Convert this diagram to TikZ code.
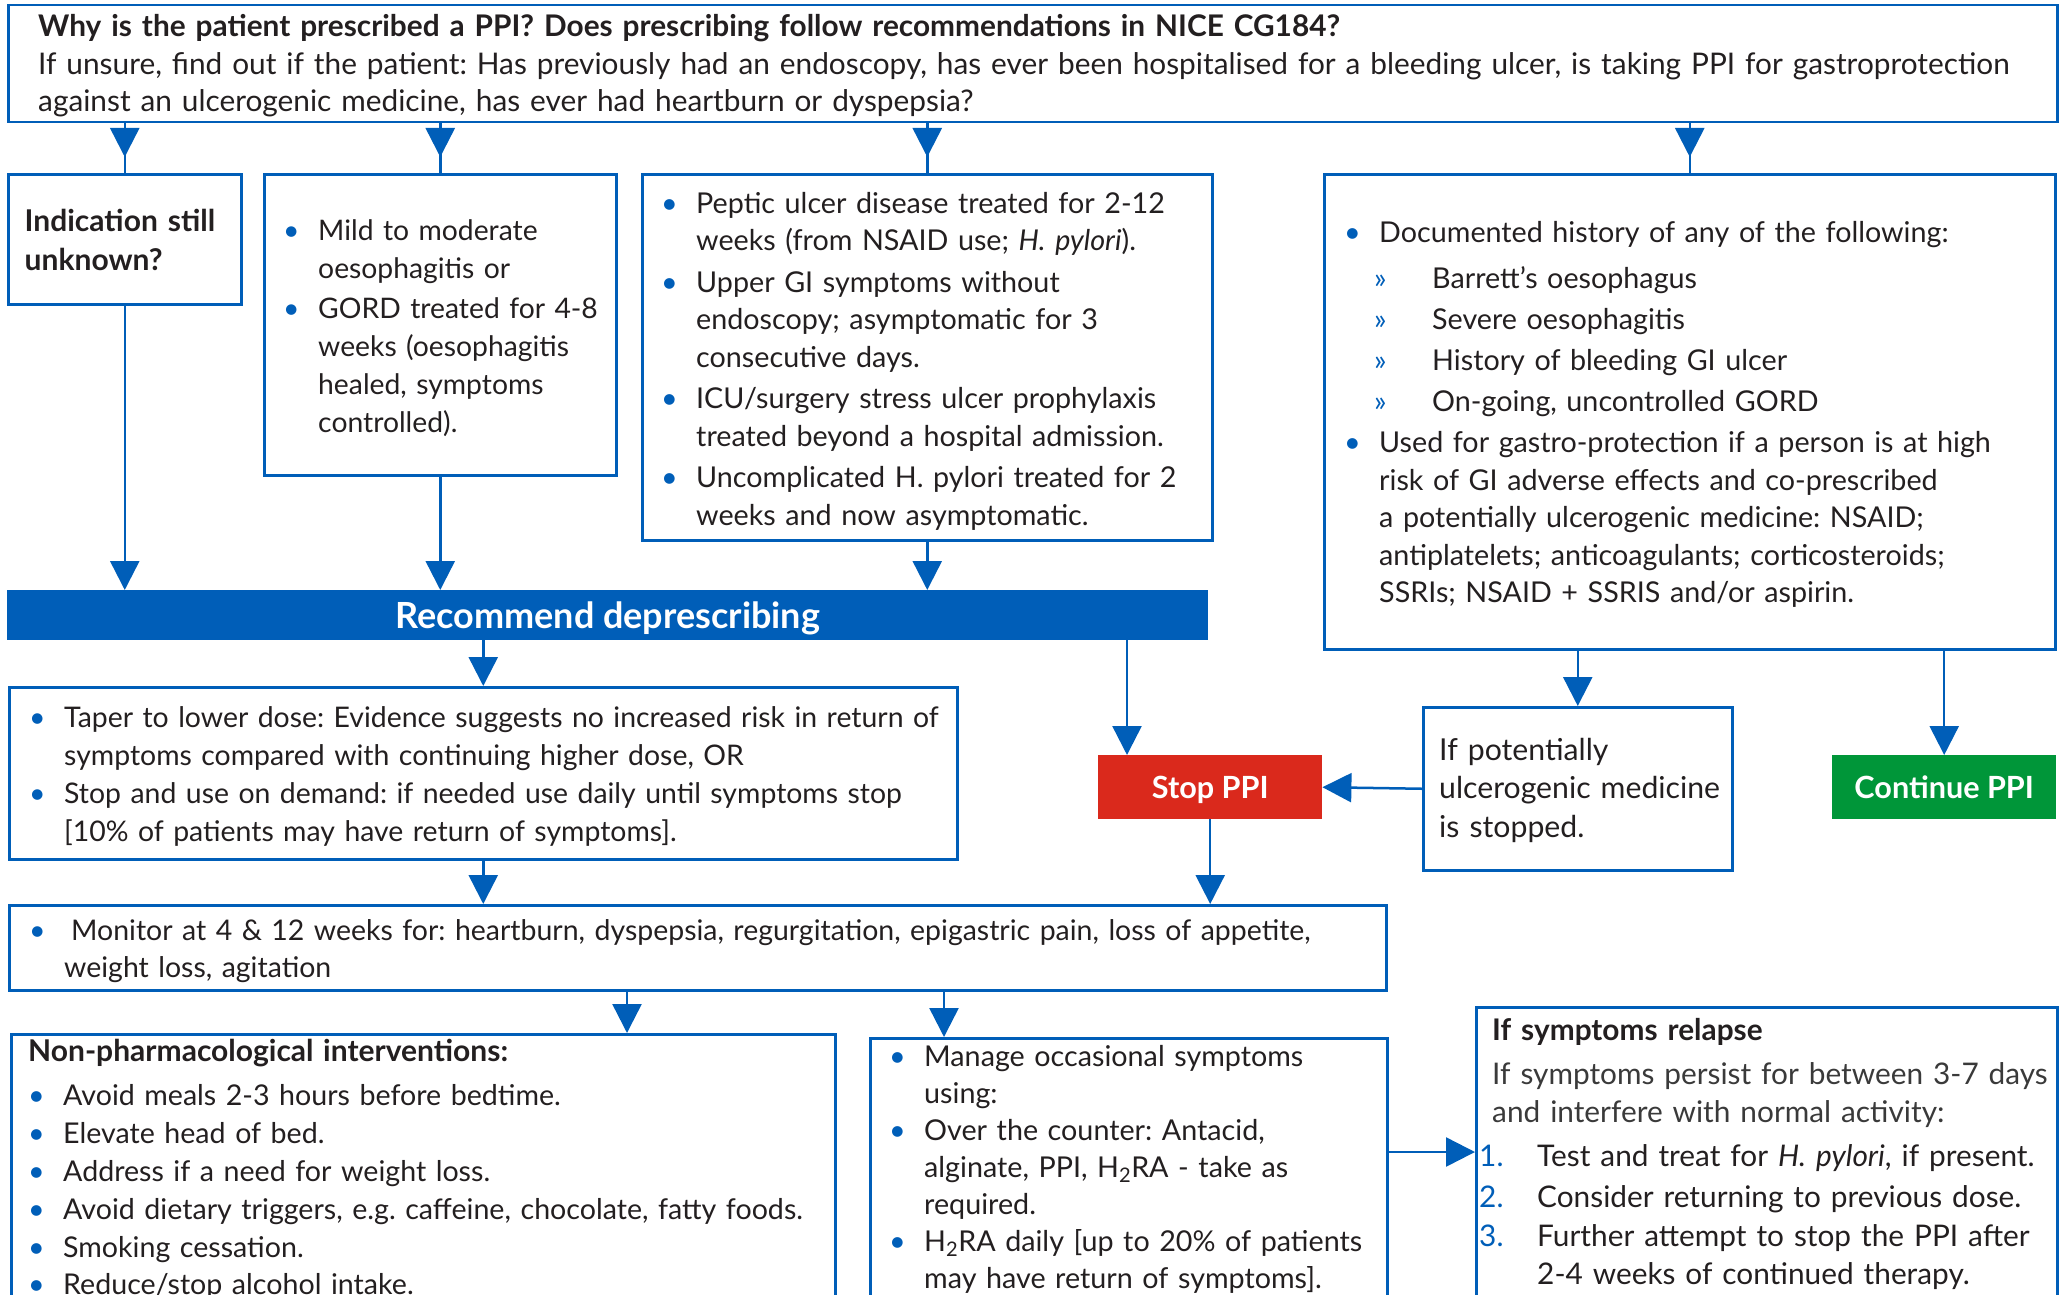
\documentclass[tikz,border=0pt]{standalone}
\usepackage{fontspec}
\setmainfont{Lato}
\usetikzlibrary{arrows.meta}
\definecolor{nhsblue}{HTML}{005EB8}
\definecolor{stopred}{HTML}{DA291C}
\definecolor{gogreen}{HTML}{009639}
\definecolor{inkc}{HTML}{231F20}
\definecolor{greyc}{HTML}{3A3A3A}
\frenchspacing
% bullet lines with hanging indent
\newcommand{\bul}[1]{\noindent\hangindent=35pt\makebox[35pt][l]{\textcolor{nhsblue}{\textbullet}}#1\par}
\newcommand{\subbul}[1]{\noindent\hspace*{30pt}\makebox[58pt][l]{\textcolor{nhsblue}{\fontsize{29}{29}\selectfont »}}#1\par}
\newcommand{\numit}[2]{\noindent\hangindent=45pt\hspace*{-13pt}\makebox[58pt][l]{\textcolor{nhsblue}{#1.}}#2\par}
\newcommand{\gap}[1]{\vspace{#1pt}}
\newcommand{\fs}[2]{\fontsize{#1}{#2}\selectfont}
\tikzset{
  box/.style={draw=nhsblue, line width=2.5pt, anchor=north west, inner sep=0pt},
  txt/.style={anchor=base west, inner sep=0pt, align=left, text width=#1, text=inkc,
    font=\fs{28.5}{37.5}},
  txt/.default=1400pt,
  conn/.style={draw=nhsblue, line width=2.5pt},
  arr/.style={conn, -{Triangle[length=29pt, width=29pt]}},
  tag/.style={anchor=north west, inner sep=0pt, text=white, text height=22pt, text depth=0pt,
    font=\fs{30.6}{34}\bfseries},
}
\begin{document}
\begin{tikzpicture}[x=1pt, y=-1pt]
  \path[use as bounding box] (0,0) rectangle (2063,1295);
  \clip (0,0) rectangle (2063,1295);
  % boxes
  \node[box, minimum width=2049pt, minimum height=117pt] (q) at (7,4) {};
  \node[box, minimum width=233pt, minimum height=130pt] (unk) at (7,173) {};
  \node[box, minimum width=352pt, minimum height=301pt] (mild) at (263,173) {};
  \node[box, minimum width=570pt, minimum height=366pt] (pud) at (641,173) {};
  \node[box, minimum width=731pt, minimum height=475pt] (doc) at (1323,173) {};
  \node[anchor=north west, inner sep=0pt, fill=nhsblue, minimum width=1201pt, minimum height=50pt,
    text=white, text height=26pt, text depth=0pt, font=\fs{36}{40}\bfseries]
    (rec) at (7,590) {Recommend deprescribing};
  \node[box, minimum width=948pt, minimum height=172pt] (taper) at (8,686) {};
  \node[tag, fill=stopred, minimum width=224pt, minimum height=64pt] (stop) at (1098,755) {Stop PPI};
  \node[box, minimum width=309pt, minimum height=163pt] (ifpot) at (1422,706) {};
  \node[tag, fill=gogreen, minimum width=224pt, minimum height=64pt] (cont) at (1832,755) {Continue PPI};
  \node[box, minimum width=1377pt, minimum height=85pt] (mon) at (8,904) {};
  \node[box, minimum width=824pt, minimum height=400pt] (nonph) at (10,1033) {};
  \node[box, minimum width=517pt, minimum height=400pt] (manage) at (869,1037) {};
  \node[box, minimum width=581pt, minimum height=400pt] (relapse) at (1475,1006) {};

  % texts
  \node[txt=2020pt, font=\fs{29.8}{37.5}] (qt) at (38,37) {\textbf{Why is the patient prescribed a PPI? Does prescribing follow recommendations in NICE CG184?}\\
    If unsure, find out if the patient: Has previously had an endoscopy, has ever been hospitalised for a bleeding ulcer, is taking PPI for gastroprotection\\
    against an ulcerogenic medicine, has ever had heartburn or dyspepsia?};
  \node[txt, font=\fs{30}{39}\bfseries] (unkt) at (24.5,231) {Indication still\\unknown?};
  \node[txt, font=\fs{28.3}{38}] (mildt) at (283,240) {%
    \bul{Mild to moderate\newline oesophagitis or}\gap{2}
    \bul{GORD treated for 4-8\newline weeks (oesophagitis\newline healed, symptoms\newline controlled).}};
  \node[txt, font=\fs{28.7}{37.5}] (pudt) at (661,213) {%
    \bul{Peptic ulcer disease treated for 2-12\newline weeks (from NSAID use; \textit{H. pylori}).}\gap{4}
    \bul{Upper GI symptoms without\newline endoscopy; asymptomatic for 3\newline consecutive days.}\gap{4}
    \bul{ICU/surgery stress ulcer prophylaxis\newline treated beyond a hospital admission.}\gap{4}
    \bul{Uncomplicated H. pylori treated for 2\newline weeks and now asymptomatic.}};
  \node[txt, font=\fs{28.7}{37.5}] (doct) at (1344,242) {%
    \bul{Documented history of any of the following:}\gap{8.5}
    \subbul{Barrett’s oesophagus}\gap{4}
    \subbul{Severe oesophagitis}\gap{3}
    \subbul{History of bleeding GI ulcer}\gap{4}
    \subbul{On-going, uncontrolled GORD}\gap{3.5}
    \bul{Used for gastro-protection if a person is at high\newline risk of GI adverse effects and co-prescribed\newline
      a potentially ulcerogenic medicine: NSAID;\newline antiplatelets; anticoagulants; corticosteroids;\newline
      SSRIs; NSAID + SSRIS and/or aspirin.}};
  \node[txt, font=\fs{28.4}{38}] (tapert) at (29,727) {%
    \bul{Taper to lower dose: Evidence suggests no increased risk in return of\newline symptoms compared with continuing higher dose, OR}
    \bul{Stop and use on demand: if needed use daily until symptoms stop\newline [10\% of patients may have return of symptoms].}};
  \node[txt, font=\fs{30.2}{38.5}] (ifpott) at (1439,760) {If potentially\\ulcerogenic medicine\\is stopped.};
  \node[txt, font=\fs{28.45}{37.5}] (mont) at (29,940) {%
    \bul{\hspace*{7pt}Monitor at 4 \& 12 weeks for: heartburn, dyspepsia, regurgitation, epigastric pain, loss of appetite,\newline weight loss, agitation}};
  \node[txt, font=\fs{28.6}{37.8}] (nonpht) at (28,1061) {%
    {\fs{30}{37.8}\bfseries Non-pharmacological interventions:\par}\gap{7}
    \bul{Avoid meals 2-3 hours before bedtime.}
    \bul{Elevate head of bed.}
    \bul{Address if a need for weight loss.}
    \bul{Avoid dietary triggers, e.g. caffeine, chocolate, fatty foods.}
    \bul{Smoking cessation.}
    \bul{Reduce/stop alcohol intake.}};
  \node[txt, font=\fs{28.7}{37}] (managet) at (889,1066) {%
    \bul{Manage occasional symptoms\newline using:}
    \bul{Over the counter: Antacid,\newline alginate, PPI, H\textsubscript{2}RA - take as\newline required.}
    \bul{H\textsubscript{2}RA daily [up to 20\% of patients\newline may have return of symptoms].}};
  \node[txt, font=\fs{29.8}{37.5}] (relapset) at (1492,1040) {%
    {\bfseries If symptoms relapse\par}\gap{7}
    {\color{greyc}If symptoms persist for between 3-7 days\newline and interfere with normal activity:\par}\gap{7}
    \numit{1}{Test and treat for \textit{H. pylori}, if present.}\gap{3}
    \numit{2}{Consider returning to previous dose.}\gap{2}
    \numit{3}{Further attempt to stop the PPI after\newline 2-4 weeks of continued therapy.}};

  % connectors
  \foreach \b in {unk,mild,pud,doc}{
    \draw[conn] (q.south -| \b.north) -- (\b.north);
    \draw[arr, shorten >=16pt] (q.south -| \b.north) -- (\b.north);
  }
  \foreach \b in {unk,mild,pud}
    \draw[arr] (\b.south) -- (rec.north -| \b.south);
  \draw[arr] (rec.south -| taper.north) -- (taper.north);
  \coordinate (stopin) at ([xshift=29pt]stop.north west);
  \draw[arr] (rec.south -| stopin) -- (stopin);
  \draw[arr] (doc.south -| ifpot.north) -- (ifpot.north);
  \draw[arr] (doc.south -| cont.north) -- (cont.north);
  \draw[arr] (ifpot.west) -- (stop.east);
  \draw[arr] (taper.south) -- (mon.north -| taper.south);
  \draw[arr] (stop.south) -- (mon.north -| stop.south);
  \coordinate (nonin) at ([xshift=617pt]nonph.north west);
  \draw[arr] (mon.south -| nonin) -- (nonin);
  \coordinate (manin) at ([xshift=75pt]manage.north west);
  \draw[arr] (mon.south -| manin) -- (manin);
  \coordinate (relout) at ([yshift=-115pt]manage.north east);
  \draw[arr] (relout) -- (relout -| relapse.west);
\end{tikzpicture}
\end{document}
